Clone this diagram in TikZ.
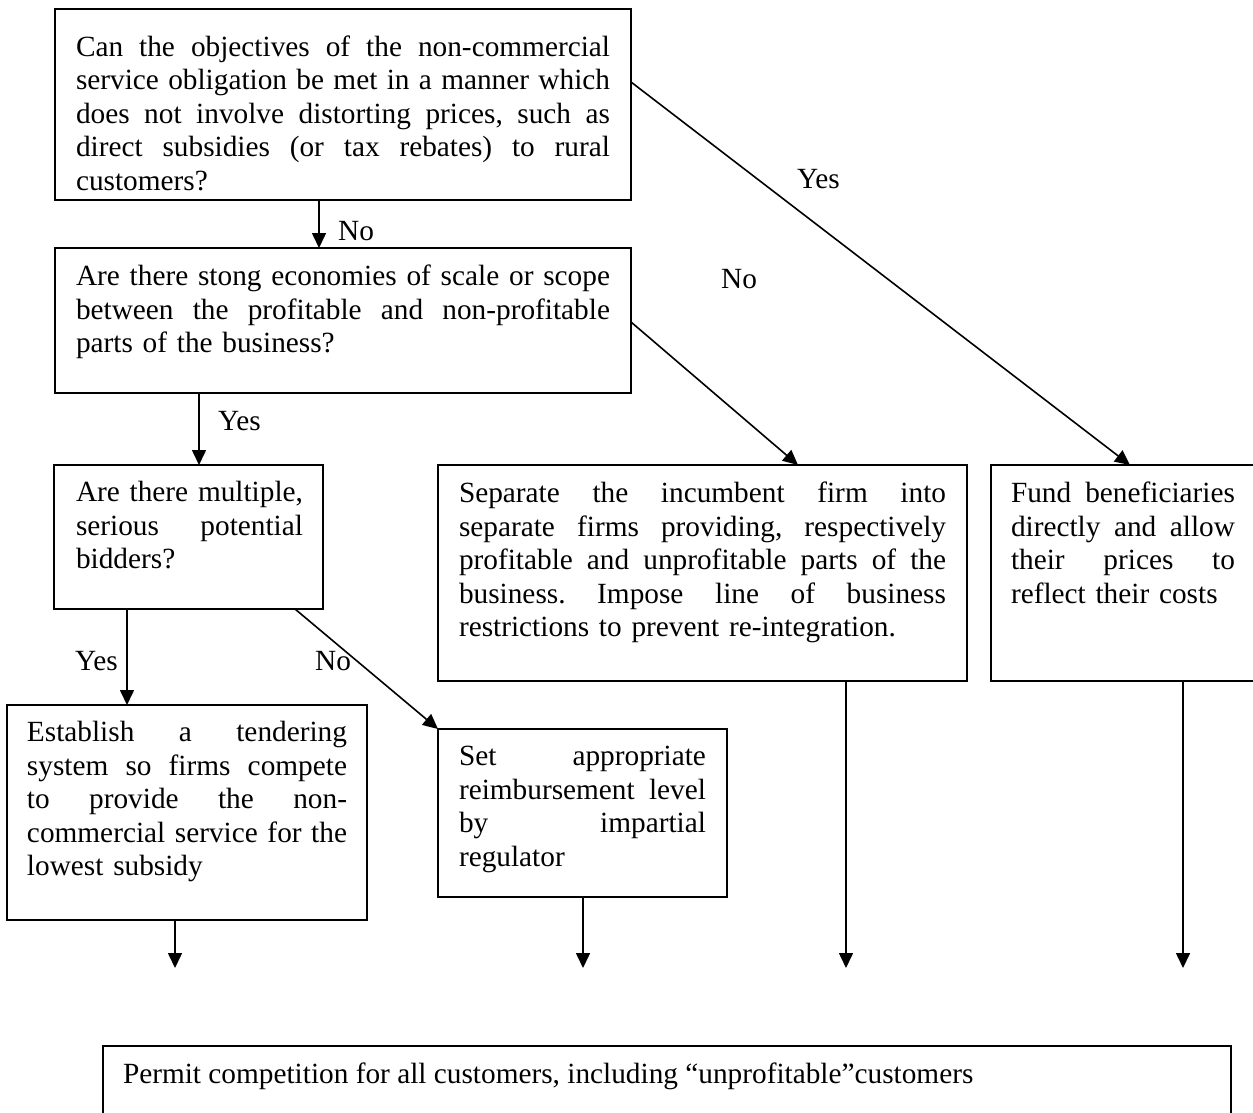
\documentclass[tikz,border=0pt]{standalone}
\usepackage{fontspec}
\setmainfont{Liberation Serif}
\usetikzlibrary{arrows.meta}
\newcommand\jlw{100pt}
\newcommand\jl[1]{\makebox[\jlw][s]{\spaceskip=0.25em plus 1fil minus 0.05em\relax #1}\\}
\begin{document}
\frenchspacing
\begin{tikzpicture}[x=1pt,y=-1pt,
  box/.style={draw, line width=2pt, outer sep=0pt, inner sep=0pt, anchor=north west},
  txt/.style={anchor=north west, inner sep=0pt, outer sep=0pt, font=\fontsize{29.3}{33.5}\selectfont},
  lbl/.style={anchor=base west, inner sep=0pt, font=\fontsize{29.3}{33.5}\selectfont},
  arr/.style={line width=1.6pt, -{Triangle[length=15pt,width=14pt]}}]
\useasboundingbox (0,0) rectangle (1253,1113);
\clip (0,0) rectangle (1253,1113);

% boxes
\node[box, minimum width=576pt, minimum height=191pt] (q1) at (55,9) {};
\node[box, minimum width=576pt, minimum height=145pt] (q2) at (55,248) {};
\node[box, minimum width=269pt, minimum height=144pt] (q3) at (54,465) {};
\node[box, minimum width=529pt, minimum height=216pt] (q4) at (438,465) {};
\node[box, minimum width=265pt, minimum height=216pt] (q5) at (991,465) {};
\node[box, minimum width=360pt, minimum height=215pt] (q6) at (7,705) {};
\node[box, minimum width=289pt, minimum height=168pt] (q7) at (438,729) {};
\node[box, minimum width=1128pt, minimum height=100pt] (q8) at (103,1046) {};

% texts
\node[txt, text width=534pt] (t1) at (76,33) {\renewcommand\jlw{534pt}\strut\jl{Can the objectives of the non-commercial}\jl{service obligation be met in a manner which}\jl{does not involve distorting prices, such as}\jl{direct subsidies (or tax rebates) to rural}customers?};
\node[txt, text width=534pt] (t2) at (76,262.5) {\renewcommand\jlw{534pt}\strut\jl{Are there stong economies of scale or scope}\jl{between the profitable and non-profitable}parts of the business?};
\node[txt, text width=227pt] (t3) at (76,478.5) {\renewcommand\jlw{227pt}\strut\jl{Are there multiple,}\jl{serious potential}bidders?};
\node[txt, text width=487pt] (t4) at (459,479.5) {\renewcommand\jlw{487pt}\strut\jl{Separate the incumbent firm into}\jl{separate firms providing, respectively}\jl{profitable and unprofitable parts of the}\jl{business. Impose line of business}restrictions to prevent re-integration.};
\node[txt, text width=224pt] (t5) at (1011,479.5) {\renewcommand\jlw{224pt}\strut\jl{Fund beneficiaries}\jl{directly and allow}\jl{their prices to}reflect their costs};
\node[txt, text width=320pt] (t6) at (27,718.5) {\renewcommand\jlw{320pt}\strut\jl{Establish a tendering}\jl{system so firms compete}\jl{to provide the non-}\jl{commercial service for the}lowest subsidy};
\node[txt, text width=247pt] (t7) at (459,742.5) {\renewcommand\jlw{247pt}\strut\jl{Set appropriate}\jl{reimbursement level}\jl{by impartial}regulator};
\node[txt] (t8) at (123,1060.5) {\strut Permit competition for all customers, including “unprofitable”customers};

% labels
\node[lbl] (l1) at (338,240) {No};
\node[lbl] (l2) at (797,189) {Yes};
\node[lbl] (l3) at (721,288) {No};
\node[lbl] (l4) at (218,430) {Yes};
\node[lbl] (l5) at (75,670) {Yes};
\node[lbl] (l6) at (315,670) {No};

% connectors
\draw[arr] ([xshift=264pt]q1.south west) -- ([xshift=264pt]q2.north west);
\draw[arr] ([xshift=144pt]q2.south west) -- ([xshift=145pt]q3.north west);
\draw[arr] ([xshift=73pt]q3.south west) -- ([xshift=120pt]q6.north west);
\draw[arr] ([xshift=241pt]q3.south west) -- (q7.north west);
\draw[arr] ([yshift=-74pt]q2.north east) -- ([xshift=360pt]q4.north west);
\draw[arr] ([yshift=-73pt]q1.north east) -- ([xshift=139pt]q5.north west);

\coordinate (e6) at (175,968);
\coordinate (e7) at (583,968);
\coordinate (e4) at (846,968);
\coordinate (e5) at (1183,968);
\draw[arr] ([xshift=168pt]q6.south west) -- (e6);
\draw[arr] ([xshift=145pt]q7.south west) -- (e7);
\draw[arr] ([xshift=408pt]q4.south west) -- (e4);
\draw[arr] ([xshift=192pt]q5.south west) -- (e5);
\end{tikzpicture}
\end{document}
